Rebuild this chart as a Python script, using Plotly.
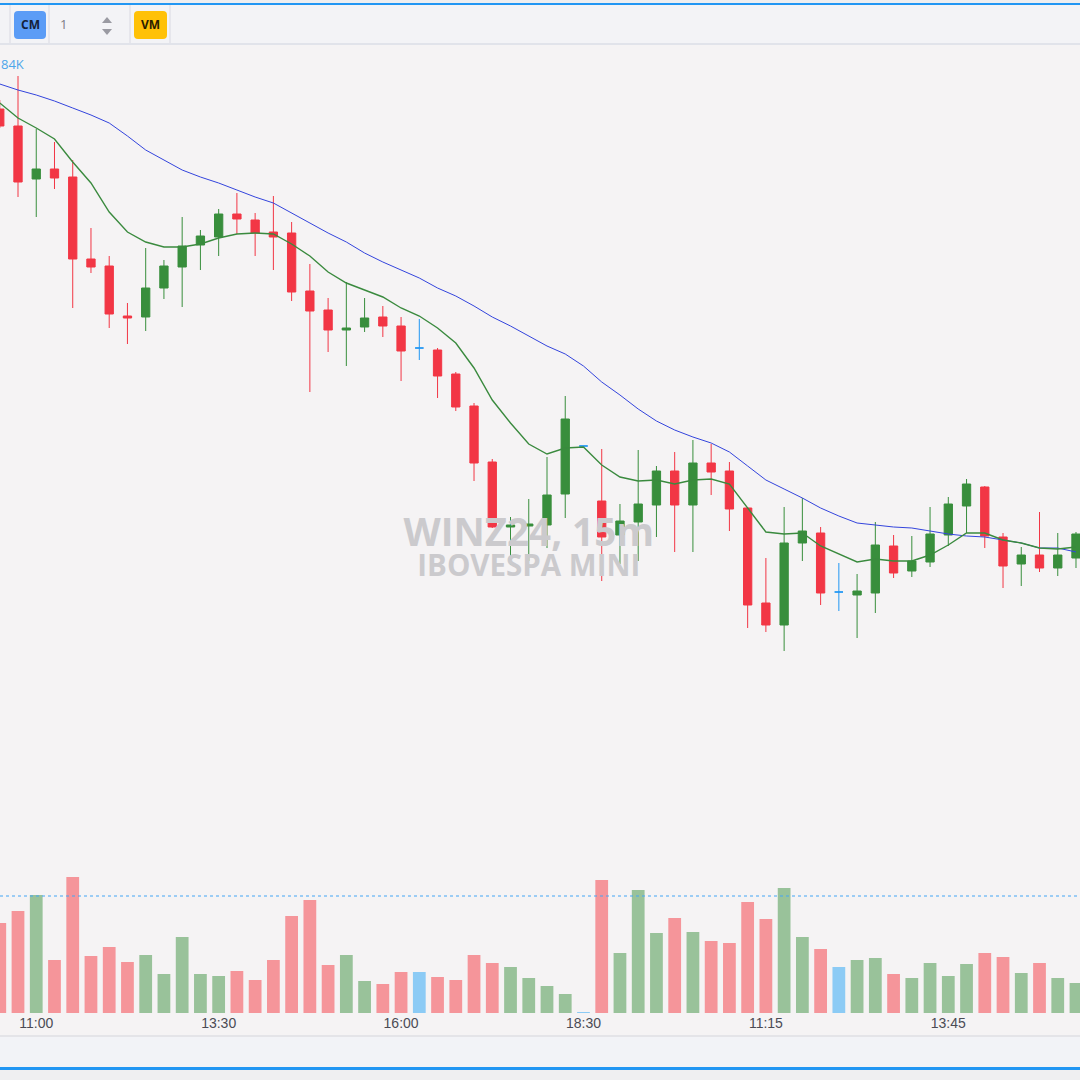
import plotly.graph_objects as go

W = H = 1080

# ---------------- data ----------------
tick_idx = [2, 12, 22, 32, 42, 52]
tick_text = ["11:00", "13:30", "16:00", "18:30", "11:15", "13:45"]

open_ = [131255, 131170, 130905, 130955, 130915, 130505, 130470, 130220, 130215, 130360,
         130465, 130575, 130615, 130730, 130700, 130640, 130635, 130345, 130250, 130150,
         130165, 130215, 130170, 130060, 130050, 129930, 129770, 129490, 129165, 129170,
         129175, 129330, 129570, 129295, 129125, 129190, 129275, 129445, 129275, 129485,
         129445, 129260, 128785, 128675, 129085, 129135, 128840, 128825, 128835, 129070,
         128945, 128990, 129125, 129270, 129365, 129115, 128980, 129025, 128960, 129010]
close = [131170, 130890, 130955, 130910, 130505, 130465, 130230, 130210, 130360, 130470,
         130570, 130620, 130730, 130705, 130635, 130615, 130340, 130245, 130150, 130160,
         130210, 130170, 130045, 130060, 129920, 129765, 129485, 129165, 129175, 129180,
         129325, 129705, 129570, 129115, 129195, 129280, 129445, 129275, 129485, 129440,
         129255, 128775, 128675, 129085, 129145, 128835, 128840, 128845, 129075, 128935,
         128995, 129130, 129280, 129380, 129120, 128970, 129025, 128960, 129025, 129130]
high = [131300, 131420, 131155, 131090, 131000, 130660, 130520, 130285, 130560, 130500,
        130715, 130650, 130755, 130835, 130735, 130820, 130690, 130480, 130310, 130390,
        130310, 130270, 130215, 130205, 130060, 129940, 129785, 129505, 129215, 129305,
        129515, 129820, 129570, 129555, 129280, 129550, 129470, 129540, 129600, 129580,
        129490, 129265, 129010, 129265, 129310, 129165, 128985, 128930, 129190, 129125,
        129120, 129265, 129315, 129405, 129370, 129135, 129065, 129240, 129135, 129140]
low = [131160, 130815, 130715, 130855, 130260, 130435, 130160, 130080, 130145, 130305,
       130265, 130450, 130520, 130630, 130520, 130450, 130295, 129840, 130040, 129970,
       130140, 130115, 129895, 130000, 129810, 129745, 129395, 129160, 128975, 128995,
       129060, 129210, 129570, 128895, 128980, 128995, 129115, 129040, 129040, 129325,
       129145, 128660, 128640, 128545, 128995, 128775, 128745, 128610, 128735, 128910,
       128915, 128965, 129070, 129135, 129060, 128860, 128870, 128940, 128920, 128960]
ma_fast = [131285, 131210, 131160, 131105, 130990, 130885, 130740, 130640, 130590, 130565,
           130565, 130580, 130610, 130630, 130635, 130630, 130580, 130520, 130440, 130385,
           130350, 130315, 130260, 130220, 130160, 130085, 129960, 129800, 129685, 129580,
           129530, 129560, 129565, 129475, 129415, 129395, 129400, 129380, 129400, 129405,
           129380, 129260, 129140, 129130, 129135, 129070, 129030, 128990, 129005, 128995,
           128995, 129025, 129075, 129135, 129135, 129100, 129085, 129060, 129055, 129065]
ma_slow = [131380, 131350, 131325, 131295, 131260, 131225, 131185, 131120, 131050, 131000,
           130950, 130915, 130885, 130850, 130815, 130785, 130735, 130685, 130635, 130590,
           130535, 130490, 130450, 130410, 130360, 130320, 130270, 130215, 130170, 130120,
           130070, 130030, 129970, 129890, 129825, 129755, 129695, 129650, 129615, 129585,
           129540, 129470, 129400, 129355, 129310, 129260, 129220, 129185, 129175, 129165,
           129160, 129145, 129130, 129120, 129115, 129100, 129085, 129060, 129060, 129040]
volume_k = [90, 102, 118, 53, 136, 57, 66, 51, 58, 39, 76, 39, 37, 42, 33, 53, 97, 113, 48, 58,
            32, 29, 41, 41, 36, 33, 58, 50, 46, 35, 27, 19, 1, 133, 60, 123, 80, 95, 81, 72,
            70, 111, 94, 125, 76, 64, 46, 53, 55, 39, 35, 50, 37, 49, 60, 56, 40, 50, 35, 30]
volume_level_k = 117

# ---------------- styling ----------------
BG = "#f5f3f4"
TOOLBAR = "#f3f3f6"
RED, GREEN, BLUE = "#f23645", "#388e3c", "#2196f3"
VRED, VGREEN, VBLUE = "#f5959a", "#99c29a", "#8ccbf5"

def px(x):
    return x / W

def py(y):
    return 1 - y / H

x = list(range(len(open_)))

fig = go.Figure()

# watermark (below candles): one two-line text
fig.add_trace(go.Scatter(
    x=[29.0], y=[129025], mode="text",
    text=["<span style='font-size:38.5px'><b>WINZ24, 15m</b></span><br>"
          "<span style='font-size:29.5px'><b>IBOVESPA MINI</b></span>"],
    textfont=dict(family="Open Sans", size=23, color="#cbcacd"),
    hoverinfo="skip", showlegend=False))

# volume bars
vcol = []
for o, c in zip(open_, close):
    vcol.append(VGREEN if c > o else (VRED if c < o else VBLUE))
fig.add_trace(go.Bar(x=x, y=volume_k, yaxis="y2", marker=dict(color=vcol, line=dict(width=0)),
                     width=0.7, showlegend=False))

# candles split by direction
groups = {"up": [], "down": [], "flat": []}
for i, (o, c) in enumerate(zip(open_, close)):
    groups["up" if c > o else ("down" if c < o else "flat")].append(i)
for key, col in (("up", GREEN), ("down", RED), ("flat", BLUE)):
    idx = groups[key]
    fig.add_trace(go.Candlestick(
        x=[x[i] for i in idx], open=[open_[i] for i in idx], high=[high[i] for i in idx],
        low=[low[i] for i in idx], close=[close[i] for i in idx],
        increasing=dict(line=dict(color=col, width=1), fillcolor=col),
        decreasing=dict(line=dict(color=col, width=1), fillcolor=col),
        whiskerwidth=0, showlegend=False))

# moving averages
fig.add_trace(go.Scatter(x=x, y=ma_slow, mode="lines", line=dict(color="#3344dd", width=1),
                         showlegend=False))
fig.add_trace(go.Scatter(x=x, y=ma_fast, mode="lines", line=dict(color="#3a8a3e", width=1.4),
                         showlegend=False))

# volume level dotted line
fig.add_shape(type="line", xref="paper", x0=0, x1=1, yref="y2", y0=volume_level_k, y1=volume_level_k,
              line=dict(color="#42a5f5", width=1, dash="dot"))

shapes = []
def rect(x0, y0, x1, y1, color):
    shapes.append(dict(type="rect", xref="paper", yref="paper", x0=px(x0), x1=px(x1),
                       y0=py(y1), y1=py(y0), fillcolor=color, line=dict(width=0), layer="below"))

# toolbar
rect(0, 0, 1080, 3, "#eeeef0")
rect(0, 3, 1080, 5, "#2196f3")
rect(0, 5, 1080, 43, TOOLBAR)
rect(0, 43, 1080, 45, "#e1e3ea")
for sx in (10, 49, 130, 170):
    rect(sx - 1, 5, sx + 1, 43, "#e6e6ec")

def rounded(x0, y0, x1, y1, r, color):
    path = (f"M {px(x0+r)},{py(y0)} L {px(x1-r)},{py(y0)} Q {px(x1)},{py(y0)} {px(x1)},{py(y0+r)} "
            f"L {px(x1)},{py(y1-r)} Q {px(x1)},{py(y1)} {px(x1-r)},{py(y1)} "
            f"L {px(x0+r)},{py(y1)} Q {px(x0)},{py(y1)} {px(x0)},{py(y1-r)} "
            f"L {px(x0)},{py(y0+r)} Q {px(x0)},{py(y0)} {px(x0+r)},{py(y0)} Z")
    shapes.append(dict(type="path", xref="paper", yref="paper", path=path,
                       fillcolor=color, line=dict(width=0)))

rounded(14, 11, 46, 39, 4, "#5b9cf6")
rounded(134, 11, 167, 39, 4, "#ffc107")
# stepper arrows
shapes.append(dict(type="path", xref="paper", yref="paper",
                   path=f"M {px(102)},{py(23)} L {px(112)},{py(23)} L {px(107)},{py(17)} Z",
                   fillcolor="#9a9aa2", line=dict(width=0)))
shapes.append(dict(type="path", xref="paper", yref="paper",
                   path=f"M {px(102)},{py(29)} L {px(112)},{py(29)} L {px(107)},{py(35)} Z",
                   fillcolor="#9a9aa2", line=dict(width=0)))

# footer
rect(0, 1035, 1080, 1037, "#e4e4e8")
rect(0, 1037, 1080, 1067, "#f2f3f7")
rect(0, 1067, 1080, 1070, "#2196f3")
rect(0, 1070, 1080, 1080, "#efeff1")

for s in shapes:
    fig.add_shape(**s)

annotations = [
    dict(text="<b>CM</b>", x=px(30), y=py(25), font=dict(size=12, color="#14213a", family="Open Sans")),
    dict(text="<b>VM</b>", x=px(150.5), y=py(25), font=dict(size=12, color="#2a2000", family="Open Sans")),
    dict(text="1", x=px(63), y=py(24), font=dict(size=13, color="#7c7c86", family="Open Sans")),
    dict(text="84K", x=px(-1), y=py(64), xanchor="left", font=dict(size=13, color="#4ea6ea", family="Open Sans")),
]
for a in annotations:
    a.setdefault("xanchor", "center")
    fig.add_annotation(xref="paper", yref="paper", yanchor="middle", showarrow=False, **a)

# price scale: domain px 45..1013
fig.update_layout(
    width=W, height=H, margin=dict(l=0, r=0, t=0, b=0),
    paper_bgcolor=BG, plot_bgcolor=BG, template="none",
    showlegend=False, boxgap=0.35, bargap=0.3,
    xaxis=dict(range=[0.013, 59.22], tickmode="array", tickvals=tick_idx, ticktext=tick_text,
               showgrid=False, zeroline=False, showline=False, ticks="",
               tickfont=dict(family="Liberation Sans", size=14, color="#4b4b55"),
               rangeslider=dict(visible=False), automargin=False),
    yaxis=dict(domain=[py(1013), py(45)], range=[126735, 131575], visible=False,
               showgrid=False, zeroline=False, fixedrange=True),
    yaxis2=dict(domain=[py(1013), py(45)], range=[0, 968], overlaying="y", visible=False,
                showgrid=False, zeroline=False),
)

fig.write_html("out.html")
